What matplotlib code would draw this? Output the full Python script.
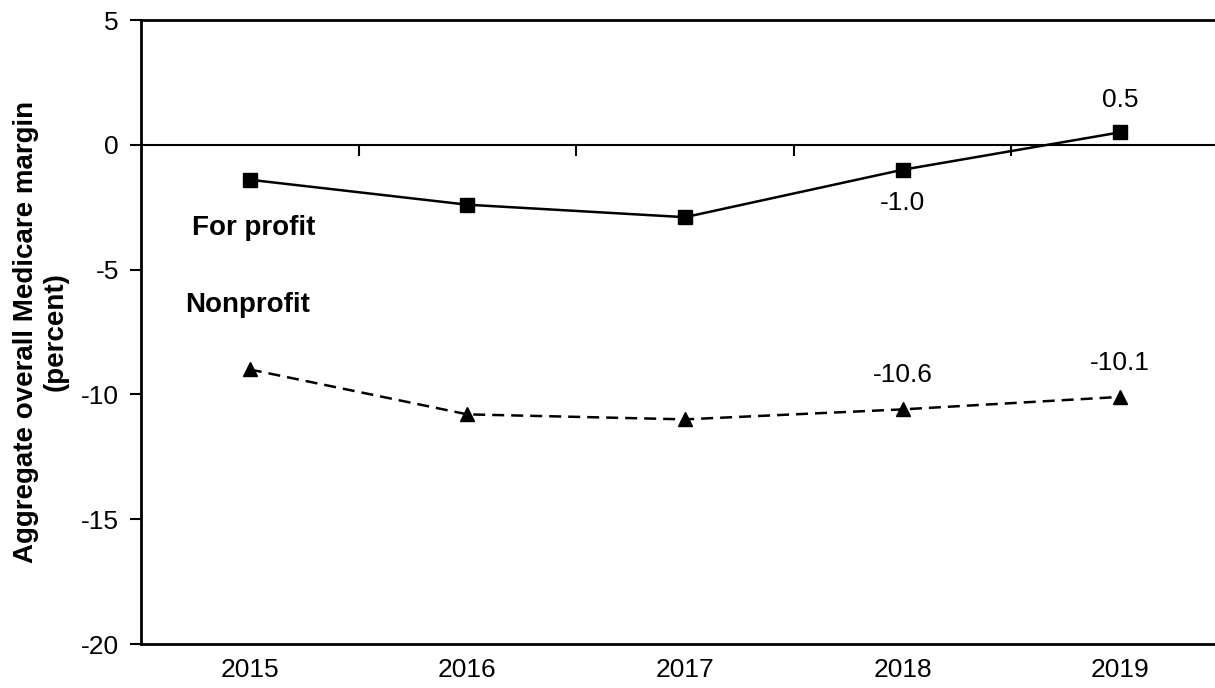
import matplotlib
matplotlib.use("Agg")
import matplotlib.pyplot as plt

years = ["2015", "2016", "2017", "2018", "2019"]
for_profit = [-1.4, -2.4, -2.9, -1.0, 0.5]
nonprofit = [-9.0, -10.8, -11.0, -10.6, -10.1]
y_ticks = [5, 0, -5, -10, -15, -20]

# Which points carry a value label, and where the label sits (pixels from the point)
fp_labels = {3: (0, -33), 4: (0, 32)}
np_labels = {3: (0, 34), 4: (0, 34)}

plt.rcParams["font.family"] = ["Liberation Sans", "DejaVu Sans"]

W, H, DPI = 1215, 688, 100
fig = plt.figure(figsize=(W / DPI, H / DPI), dpi=DPI)
ax = fig.add_axes([141 / W, 1 - 644 / H, (1229 - 141) / W, (644 - 20) / H])

x = list(range(len(years)))
ax.plot(x, for_profit, color="black", lw=1.8, marker="s", ms=10,
        clip_on=False, zorder=3)
ax.plot(x, nonprofit, color="black", lw=1.8, ls=(0, (4.8, 2.8)),
        marker="^", ms=10, clip_on=False, zorder=3)

for i, (dx, dy) in fp_labels.items():
    ax.annotate(f"{for_profit[i]:.1f}", (x[i], for_profit[i]),
                xytext=(dx, dy), textcoords="offset pixels",
                ha="center", va="center", fontsize=19)
for i, (dx, dy) in np_labels.items():
    ax.annotate(f"{nonprofit[i]:.1f}", (x[i], nonprofit[i]),
                xytext=(dx, dy), textcoords="offset pixels",
                ha="center", va="center", fontsize=19)

ax.text(0.02, -3.35, "For profit", ha="center", va="center",
        fontsize=20, fontweight="bold")
ax.text(-0.01, -6.4, "Nonprofit", ha="center", va="center",
        fontsize=20, fontweight="bold")

ymin, ymax = -20, 5
ax.set_xlim(-0.5, len(years) - 0.5)
ax.set_ylim(ymin, ymax)
ax.set_yticks(y_ticks)
ax.set_yticklabels([str(t) for t in y_ticks])
ax.set_xticks(x)
ax.set_xticklabels(years)

ax.tick_params(axis="y", direction="out", length=8, width=1.5,
               labelsize=19, pad=8)
ax.tick_params(axis="x", length=0, labelsize=19, pad=10)

for side in ("left", "top", "bottom"):
    ax.spines[side].set_linewidth(2)
ax.spines["right"].set_visible(False)

# Zero line with category-boundary ticks
zero_frac = (0 - ymin) / (ymax - ymin)
sec = ax.secondary_xaxis(zero_frac)
sec.set_alignment("bottom")
sec.set_xticks([i + 0.5 for i in x[:-1]])
sec.tick_params(axis="x", direction="out", length=8, width=1.5,
                labelbottom=False, labeltop=False)
sec.spines["bottom"].set_linewidth(1.5)

ax.set_ylabel("Aggregate overall Medicare margin\n(percent)",
              fontsize=20, fontweight="bold", va="center",
              linespacing=1.15)
ax.yaxis.set_label_coords(-0.092, 0.5)

fig.savefig("out.png", dpi=DPI)
